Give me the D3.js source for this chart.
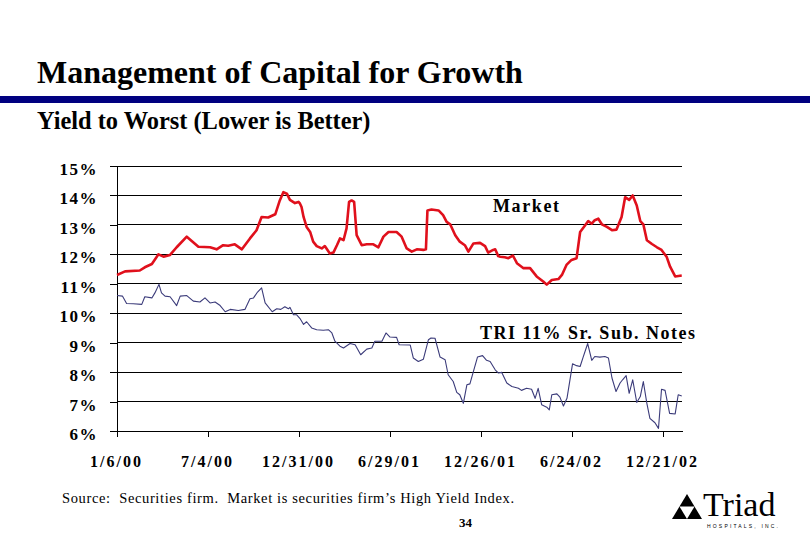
<!DOCTYPE html>
<html><head><meta charset="utf-8">
<script src="https://cdn.jsdelivr.net/npm/d3@7"></script>
<style>
html,body{margin:0;padding:0;background:#fff;}
svg{display:block;}
</style></head>
<body>
<svg id="chart" width="810" height="540"></svg>
<script>
// ---- data (days since 1/6/00, yield %) ----
const startDate = Date.UTC(2000, 0, 6);
const marketDays = [0,16,45,55,69,82,92,105,118,138,161,184,197,210,220,233,247,263,276,286,299,313,322,329,336,342,352,359,362,365,369,375,382,388,395,405,411,421,428,435,441,448,454,459,464,469,474,484,494,507,517,527,537,553,563,573,583,593,606,611,614,622,636,645,652,659,669,678,688,695,705,718,728,734,744,748,754,758,767,774,783,791,804,817,830,843,850,860,873,880,889,899,909,916,926,932,939,945,952,959,969,979,988,998,1005,1013,1020,1028,1035,1041,1048,1058,1068,1077,1087,1094,1104,1117];
const marketYield = [11.30,11.42,11.45,11.56,11.67,12.00,11.92,11.98,12.24,12.60,12.26,12.24,12.17,12.31,12.29,12.34,12.17,12.54,12.82,13.27,13.25,13.36,13.83,14.11,14.06,13.85,13.74,13.78,13.72,13.61,13.27,12.93,12.76,12.43,12.28,12.20,12.28,12.03,12.06,12.31,12.54,12.48,12.88,13.78,13.83,13.78,12.65,12.31,12.34,12.34,12.24,12.60,12.76,12.76,12.60,12.20,12.09,12.17,12.15,12.17,13.49,13.52,13.49,13.33,13.10,13.02,12.65,12.43,12.31,12.09,12.37,12.39,12.28,12.06,12.15,12.17,11.94,11.92,11.90,11.87,11.96,11.70,11.53,11.53,11.25,11.08,10.97,11.13,11.16,11.30,11.64,11.81,11.87,12.76,12.99,13.13,13.04,13.16,13.21,13.02,12.93,12.82,12.84,13.27,13.94,13.85,14.00,13.66,13.13,13.02,12.48,12.35,12.24,12.15,11.92,11.58,11.25,11.28];
const triDays = [0,11,19,32,49,55,69,75,83,88,95,105,118,125,138,151,164,174,184,194,204,214,224,240,253,263,270,278,286,293,307,316,324,332,339,342,349,355,362,369,375,385,395,408,418,425,431,441,448,461,471,482,494,504,510,524,532,540,553,558,580,586,596,606,616,621,629,639,649,655,665,672,678,685,692,698,713,723,731,738,748,754,761,771,781,794,800,810,820,827,833,840,850,855,860,870,876,883,890,901,909,916,922,931,939,945,955,965,972,979,987,995,1000,1007,1013,1020,1028,1035,1041,1048,1054,1064,1071,1077,1084,1093,1104,1110,1117];
const triYield = [10.60,10.58,10.33,10.32,10.30,10.56,10.52,10.69,10.98,10.69,10.58,10.56,10.26,10.58,10.60,10.41,10.38,10.52,10.35,10.38,10.26,10.05,10.13,10.09,10.13,10.49,10.52,10.72,10.86,10.35,10.05,10.15,10.13,10.22,10.15,10.20,9.95,9.95,9.82,9.62,9.71,9.50,9.44,9.42,9.44,9.33,9.05,8.88,8.82,8.97,8.93,8.59,8.78,8.82,9.05,9.05,9.33,9.19,9.18,8.93,8.92,8.48,8.36,8.44,9.10,9.16,9.15,8.51,8.42,7.91,7.68,7.31,7.23,6.94,7.57,7.60,8.51,8.56,8.40,8.36,8.08,7.97,7.99,7.63,7.51,7.45,7.38,7.45,7.42,7.11,7.45,6.89,6.81,6.72,7.23,7.26,7.15,6.85,7.11,8.28,8.22,8.19,8.51,8.97,8.40,8.53,8.51,8.53,8.48,7.80,7.34,7.63,7.74,7.88,7.28,7.74,6.97,7.17,7.68,6.94,6.43,6.28,6.09,7.42,7.38,6.60,6.58,7.23,7.19];
const yTickValues = [6,7,8,9,10,11,12,13,14,15];
const xTickDays = [0,180,360,540,720,900,1080];
const seriesNames = ["Market", "TRI 11% Sr. Sub. Notes"];

const dayToDate = d => new Date(startDate + d * 864e5);
const marketData = marketDays.map((d,i) => ({date: dayToDate(d), v: marketYield[i]}));
const triData = triDays.map((d,i) => ({date: dayToDate(d), v: triYield[i]}));

const svg = d3.select("#chart");
const L = 117, R = 682, T = 166, B = 431;
const serif = "'Liberation Serif','Times New Roman',serif";

const x = d3.scaleUtc().domain([dayToDate(0), dayToDate(1117.5)]).range([L, R]);
const y = d3.scaleLinear().domain([6, 15]).range([B, T]);

// Title, bar, subtitle
svg.append("text").attr("x", 37).attr("y", 83)
  .style("font-family", serif)
  .style("font-weight", "bold").style("font-size", "32px").attr("fill", "#000")
  .text("Management of Capital for Growth");
svg.append("rect").attr("x", 0).attr("y", 96).attr("width", 810).attr("height", 7).attr("fill", "#000080");
svg.append("text").attr("x", 37).attr("y", 129)
  .style("font-family", serif)
  .style("font-weight", "bold").style("font-size", "24.4px").attr("fill", "#000")
  .text("Yield to Worst (Lower is Better)");

// gridlines
svg.append("g").selectAll("line").data(yTickValues.filter(v => v > 6)).join("line")
  .attr("x1", L).attr("x2", R).attr("y1", d => y(d)).attr("y2", d => y(d))
  .attr("stroke", "#000").attr("stroke-width", 1).attr("shape-rendering", "crispEdges");

// Y axis
const yAxis = d3.axisLeft(y).tickValues(yTickValues).tickSize(7).tickSizeOuter(0).tickFormat(d => d + "%");
const gy = svg.append("g").attr("transform", `translate(${L},0)`).call(yAxis);
gy.select(".domain").attr("stroke", "#000").attr("shape-rendering", "crispEdges");
gy.selectAll(".tick line").attr("stroke", "#000").attr("shape-rendering", "crispEdges");
gy.selectAll(".tick text").attr("x", -19).attr("dy", null).attr("y", 8.5)
  .style("font-family", serif)
  .style("font-weight", "bold").style("font-size", "17px").style("letter-spacing", "1.5px")
  .attr("fill", "#000");

// X axis
const fmt = d => `${d.getUTCMonth()+1}/${d.getUTCDate()}/${String(d.getUTCFullYear()).slice(2)}`;
const xAxis = d3.axisBottom(x).tickValues(xTickDays.map(dayToDate)).tickSize(6).tickSizeOuter(0).tickFormat(fmt);
const gx = svg.append("g").attr("transform", `translate(0,${B})`).call(xAxis);
gx.select(".domain").attr("stroke", "#000").attr("shape-rendering", "crispEdges");
gx.selectAll(".tick line").attr("stroke", "#000").attr("shape-rendering", "crispEdges");
gx.selectAll(".tick text").attr("y", 36).attr("dy", null).attr("x", -1)
  .style("font-family", serif)
  .style("font-weight", "bold").style("font-size", "16px").style("letter-spacing", "2px")
  .attr("fill", "#000");

// lines
const line = d3.line().x(d => x(d.date)).y(d => y(d.v));
svg.append("path").datum(triData).attr("d", line)
  .attr("fill", "none").attr("stroke", "#3b3b7a").attr("stroke-width", 1.1).attr("stroke-linejoin", "round");
svg.append("path").datum(marketData).attr("d", line)
  .attr("fill", "none").attr("stroke", "#e0101c").attr("stroke-width", 2.6).attr("stroke-linejoin", "round");

// series labels
svg.append("text").attr("x", 493).attr("y", 212)
  .style("font-family", serif)
  .style("font-weight", "bold").style("font-size", "18px").style("letter-spacing", "1.6px")
  .attr("fill", "#000").text(seriesNames[0]);
svg.append("text").attr("x", 480).attr("y", 338.5)
  .style("font-family", serif)
  .style("font-weight", "bold").style("font-size", "18px").style("letter-spacing", "1.5px")
  .attr("fill", "#000").text(seriesNames[1]);

// footnote and page number
svg.append("text").attr("x", 62).attr("y", 503)
  .attr("textLength", 452).attr("lengthAdjust", "spacing")
  .style("white-space", "pre")
  .style("font-family", serif)
  .style("font-size", "14.5px").attr("fill", "#000")
  .text("Source:  Securities firm.  Market is securities firm\u2019s High Yield Index.");
svg.append("text").attr("x", 459).attr("y", 527)
  .style("font-family", serif)
  .style("font-weight", "bold").style("font-size", "13px").attr("fill", "#000")
  .text("34");

// logo
const lg = svg.append("g");
const tx0 = 672, tx1 = 702, ty0 = 494, ty1 = 519, tmx = (tx0 + tx1) / 2;
lg.append("polygon").attr("points", `${tmx},${ty0} ${tx1},${ty1} ${tx0},${ty1}`).attr("fill", "#000");
lg.append("polygon").attr("points", `${(tx0+tmx)/2},${(ty0+ty1)/2} ${(tx1+tmx)/2},${(ty0+ty1)/2} ${tmx},${ty1}`).attr("fill", "#fff");
lg.append("text").attr("x", 703).attr("y", 516)
  .style("font-family", serif)
  .style("font-size", "34px").attr("fill", "#000").text("Triad");
lg.append("text").attr("x", 707).attr("y", 528).attr("textLength", 71).attr("lengthAdjust", "spacing")
  .style("font-family", "'Liberation Sans',Arial,sans-serif")
  .style("font-size", "5px").attr("fill", "#000").text("HOSPITALS, INC.");
</script>
</body></html>
